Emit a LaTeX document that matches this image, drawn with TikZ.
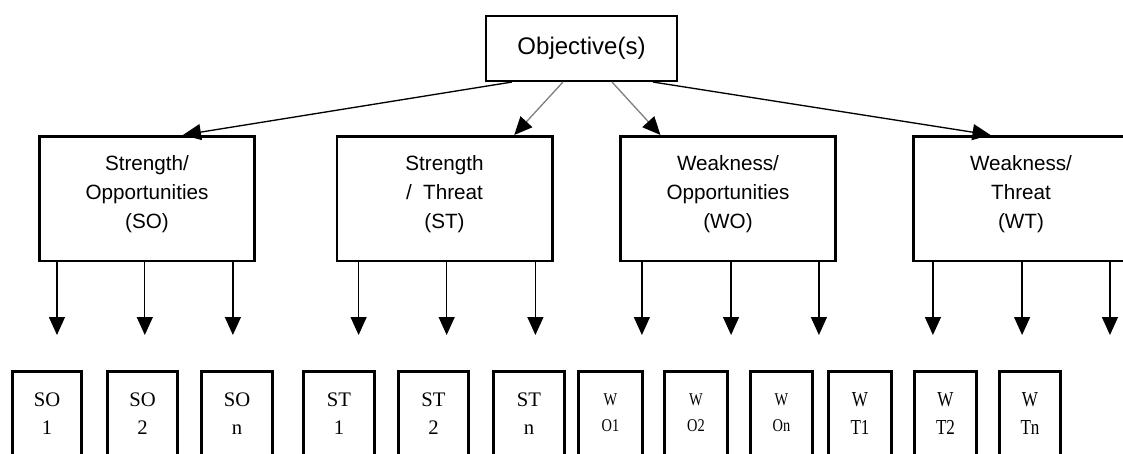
\documentclass[tikz,border=0pt]{standalone}
\usepackage{fontspec}
\setmainfont{Liberation Sans}
\newfontfamily\leaffont{Liberation Serif}
\newfontfamily\woleaffont[FakeStretch=0.8]{Liberation Serif}
\newfontfamily\wtleaffont[FakeStretch=0.8]{Liberation Serif}
\usetikzlibrary{arrows.meta, calc}

\begin{document}
\begin{tikzpicture}[x=0.75pt, y=-0.75pt, >={Triangle[length=13.5pt, width=12pt]}]
    % pixel coordinates, origin top-left
    \tikzset{
        goalbox/.style={draw, line width=1.9pt, minimum width=143pt, minimum height=48.4pt, inner sep=0pt, font=\fontsize{18}{22}\selectfont},
        stratbox/.style={draw, line width=1.9pt, minimum width=161.6pt, minimum height=93.4pt, inner sep=0pt},
        strattxt/.style={align=center, inner sep=0pt, font=\fontsize{15.5}{21.75}\selectfont},
        leafbox/.style={draw, line width=2.25pt, minimum height=90pt, anchor=north, inner sep=0pt},
        leaftxt/.style={align=center, inner sep=0pt, font=\leaffont\fontsize{15.5}{21}\selectfont},
        link/.style={->, line width=1pt},
        glink/.style={line width=1pt, draw=gray, -{Triangle[length=13.5pt, width=12pt, color=black]}},
    }
    \useasboundingbox (0,0) rectangle (1123,453);
    \clip (0,0) rectangle (1123,453);

    % --- Objective ---
    \node[goalbox] (obj) at (581.5,48.5) {Objective(s)};

    % --- Strategy boxes ---
    \node[stratbox] (so) at (147,198.5) {};
    \node[strattxt] (so-t) at ($(so.center)+(0,-4)$) {Strength/\\Opportunities\\(SO)};
    \node[stratbox] (st) at (444.5,198.5) {};
    \node[strattxt] (st-t) at ($(st.center)+(0,-4)$) {Strength\\/~~Threat\\(ST)};
    \node[stratbox] (wo) at (728,198.5) {};
    \node[strattxt] (wo-t) at ($(wo.center)+(0,-4)$) {Weakness/\\Opportunities\\(WO)};
    \node[stratbox] (wt) at (1021,198.5) {};
    \node[strattxt] (wt-t) at ($(wt.center)+(0,-4)$) {Weakness/\\Threat\\(WT)};

    % --- Objective to strategies ---
    \draw[link] ($(obj.south west)!0.14!(obj.south east)$) -- ($(so.north west)!0.665!(so.north east)$);
    \draw[glink] ($(obj.south west)!0.404!(obj.south east)$) -- ($(st.north west)!0.82!(st.north east)$);
    \draw[glink] ($(obj.south west)!0.658!(obj.south east)$) -- ($(wo.north west)!0.19!(wo.north east)$);
    \draw[link] ($(obj.south west)!0.87!(obj.south east)$) -- ($(wt.north west)!0.36!(wt.north east)$);

    % --- Down arrows (free ends) ---
    \coordinate (tips) at (0,335);
    \foreach \b/\fa/\fb/\fc in {so/0.087/0.49/0.894, st/0.106/0.51/0.917, wo/0.105/0.514/0.917, wt/0.096/0.505/0.908} {
        \foreach \f in {\fa,\fb,\fc} {
            \path ($(\b.south west)!\f!(\b.south east)$) coordinate (s);
            \draw[link] (s) -- (s |- tips);
        }
    }

    % --- Leaf boxes ---
    \foreach \n/\x/\w/\a/\b in {so1/47/72/SO/1, so2/142.5/73/SO/2, son/237/74/SO/n, st1/339/74/ST/1, st2/433.5/73/ST/2, stn/529/74/ST/n} {
        \node[leafbox, minimum width=(\w-3)*0.75pt] (\n) at (\x,370) {};
        \node[leaftxt] (\n-t) at ($(\n.north)+(0,44)$) {\a\\\b};
    }
    \foreach \n/\x/\w/\b in {wo1/610.5/67/O1, wo2/696/66/O2, won/781.5/65/On} {
        \node[leafbox, minimum width=(\w-3)*0.75pt] (\n) at (\x,370) {};
        \node[leaftxt, font=\woleaffont\fontsize{13.5}{19.5}\selectfont] (\n-t) at ($(\n.north)+(0,43)$) {W\\\b};
    }
    \foreach \n/\x/\w/\b in {wt1/860/66/T1, wt2/945.5/65/T2, wtn/1030/64/Tn} {
        \node[leafbox, minimum width=(\w-3)*0.75pt] (\n) at (\x,370) {};
        \node[leaftxt, font=\wtleaffont\fontsize{16}{21}\selectfont] (\n-t) at ($(\n.north)+(0,44)$) {W\\\b};
    }

\end{tikzpicture}
\end{document}
